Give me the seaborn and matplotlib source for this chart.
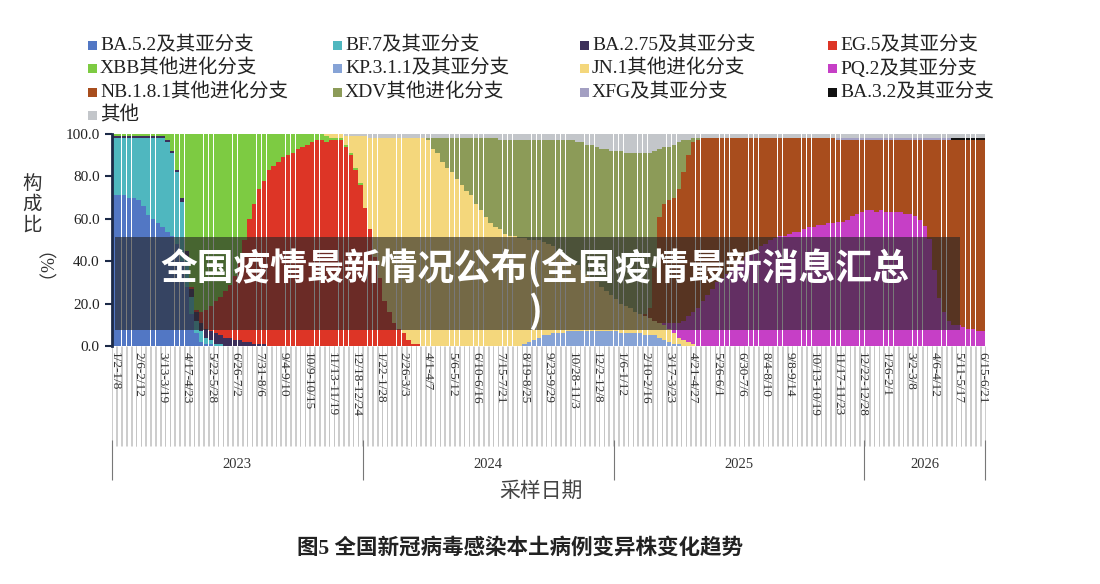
import matplotlib
matplotlib.use('Agg')
import numpy as np
import seaborn as sns
import matplotlib.pyplot as plt
from matplotlib.patches import Rectangle

n_weeks = 181

week_labels = ['1/2-1/8', '2/6-2/12', '3/13-3/19', '4/17-4/23', '5/22-5/28', '6/26-7/2',
               '7/31-8/6', '9/4-9/10', '10/9-10/15', '11/13-11/19', '12/18-12/24', '1/22-1/28',
               '2/26-3/3', '4/1-4/7', '5/6-5/12', '6/10-6/16', '7/15-7/21', '8/19-8/25',
               '9/23-9/29', '10/28-11/3', '12/2-12/8', '1/6-1/12', '2/10-2/16', '3/17-3/23',
               '4/21-4/27', '5/26-6/1', '6/30-7/6', '8/4-8/10', '9/8-9/14', '10/13-10/19',
               '11/17-11/23', '12/22-12/28', '1/26-2/1', '3/2-3/8', '4/6-4/12', '5/11-5/17',
               '6/15-6/21']
years = ['2023', '2024', '2025', '2026']
year_first_week = [0, 52, 104, 156]

variants = ['BA.5.2及其亚分支', 'BF.7及其亚分支', 'BA.2.75及其亚分支', 'EG.5及其亚分支',
            'XBB其他进化分支', 'KP.3.1.1及其亚分支', 'JN.1其他进化分支', 'PQ.2及其亚分支',
            'NB.1.8.1其他进化分支', 'XDV其他进化分支', 'XFG及其亚分支', 'BA.3.2及其亚分支', '其他']
colors = ['#5277c4', '#4fb7bf', '#3d2f5a', '#dd3526', '#7dcb42', '#86a3d6', '#f4d77c',
          '#c63fc6', '#a84d1d', '#8c9b58', '#a39fc2', '#111111', '#c3c6ca']

# weekly share (%) of each lineage; *_from = index of first week listed
ba52_from = 0
ba52 = [71, 71, 71, 70, 70, 69, 66, 62, 60, 58, 56, 54, 52, 48, 40, 28, 15, 6, 2, 1, 1]
bf7_from = 0
bf7 = [27, 27, 27, 28, 28, 29, 32, 36, 38, 40, 42, 42, 39, 34, 28, 14, 8, 6, 5, 3, 2, 1, 1]
ba275_from = 0
ba275 = [1, 1, 1, 1, 1, 1, 1, 1, 1, 1, 1, 1, 1, 1, 2, 3, 4, 4, 4, 4, 4, 5, 4, 4, 4, 3, 3,
         2, 2, 1, 1, 1]
eg5_from = 16
eg5 = [1, 1, 5, 9, 12, 15, 18, 22, 25, 30, 37, 48, 58, 66, 73, 77, 83, 85, 87, 89, 90, 91,
       93, 94, 95, 96, 97, 97, 96, 97, 97, 97, 94, 90, 83, 76, 65, 55, 42, 32, 21, 16, 11, 8,
       6, 3, 1, 1]
xbb_from = 0
xbb = [1, 1, 1, 1, 1, 1, 1, 1, 1, 1, 1, 3, 8, 17, 30, 55, 72, 83, 84, 83, 81, 79, 77, 74, 71,
       67, 60, 50, 40, 33, 26, 22, 17, 15, 13, 11, 10, 9, 7, 6, 5, 4, 3, 3, 3, 1, 1, 1, 1, 1,
       1, 1]
kp311_from = 85
kp311 = [1, 2, 3, 4, 5, 5, 6, 6, 6, 7, 7, 7, 7, 7, 7, 7, 7, 7, 7, 7, 6, 6, 6, 6, 6, 5, 5, 5,
         4, 3, 2, 1, 1]
jn1_from = 44
jn1 = [1, 2, 2, 2, 4, 8, 15, 22, 34, 43, 56, 66, 77, 82, 87, 90, 92, 95, 97, 97, 98, 97, 93,
       91, 87, 84, 82, 79, 76, 73, 71, 67, 64, 61, 58, 56, 55, 53, 52, 52, 51, 50, 48, 47, 46,
       44, 43, 41, 39, 38, 35, 33, 31, 29, 27, 25, 23, 21, 19, 17, 15, 14, 13, 12, 10, 9, 9,
       8, 7, 7, 7, 6, 5, 3, 3, 2, 1]
pq2_from = 114
pq2 = [1, 3, 5, 7, 9, 12, 15, 18, 21, 24, 27, 30, 32, 34, 36, 38, 40, 42, 44, 45, 47, 48, 50,
       51, 52, 52, 53, 54, 54, 55, 56, 56, 57, 57, 58, 58, 59, 59, 60, 62, 63, 64, 65, 65, 64,
       65, 64, 64, 64, 64, 63, 63, 62, 60, 57, 51, 36, 23, 16, 12, 10, 10, 9, 8, 8, 7, 7]
nb181_from = 110
nb181 = [1, 5, 25, 50, 56, 58, 59, 63, 70, 76, 80, 79, 77, 74, 71, 68, 66, 64, 62, 60, 58, 56,
         54, 53, 51, 50, 48, 47, 46, 46, 45, 44, 44, 43, 42, 42, 41, 41, 40, 40, 39, 39, 38,
         36, 35, 34, 33, 33, 34, 33, 34, 34, 34, 34, 35, 35, 36, 38, 41, 47, 62, 75, 82, 86,
         87, 87, 88, 89, 89, 90, 90]
xdv_from = 65
xdv = [1, 5, 7, 11, 14, 16, 19, 22, 25, 27, 31, 34, 37, 40, 42, 42, 44, 45, 45, 46, 46, 47, 47,
       47, 48, 49, 50, 52, 53, 55, 57, 58, 60, 61, 63, 64, 65, 67, 68, 70, 72, 72, 73, 75, 76,
       76, 73, 55, 32, 27, 25, 25, 22, 15, 7, 2, 1]
xfg_from = 150
xfg = [1, 1, 1, 1, 1, 1, 1, 1, 1, 1, 1, 1, 1, 1, 1, 1, 1, 1, 1, 1, 1, 1, 1, 1]
ba32_from = 174
ba32 = [1, 1, 1, 1, 1, 1, 1]
other_from = 48
other = [1, 1, 1, 1, 1,
         2, 2, 2, 2, 2, 2, 2, 2, 2, 2,
         2, 2, 2, 2, 2, 2, 2, 2, 2, 2,
         2, 2, 2, 2, 2, 2, 2,
         3, 3, 3, 3, 3, 3, 3, 3, 3, 3,
         3, 3, 3, 3, 3, 3,
         4, 4, 5, 5, 6, 7, 7, 8, 8, 8, 9, 9, 9, 9, 9, 9, 8, 7, 6, 6, 5, 4, 3, 3,
         2, 2, 2, 2, 2, 2, 2, 2, 2, 2,
         2, 2, 2, 2, 2, 2, 2, 2, 2, 2,
         2, 2, 2, 2, 2, 2, 2, 2, 2, 2,
         2, 2, 2, 2, 2, 2, 2, 2, 2, 2,
         2, 2, 2, 2, 2, 2, 2, 2, 2, 2,
         2, 2, 2, 2, 2, 2, 2, 2, 2, 2,
         2]


def full_series(start, vals):
    out = np.zeros(n_weeks)
    out[start:start + len(vals)] = vals
    return out


shares = np.vstack([
    full_series(ba52_from, ba52), full_series(bf7_from, bf7), full_series(ba275_from, ba275),
    full_series(eg5_from, eg5), full_series(xbb_from, xbb), full_series(kp311_from, kp311),
    full_series(jn1_from, jn1), full_series(pq2_from, pq2), full_series(nb181_from, nb181),
    full_series(xdv_from, xdv), full_series(xfg_from, xfg), full_series(ba32_from, ba32),
    full_series(other_from, other),
])
shares = shares / shares.sum(axis=0) * 100
cum = shares.cumsum(axis=0)
weeks = np.arange(n_weeks)

sns.set_theme(style='white')
plt.rcParams['font.family'] = ['Liberation Serif', 'Noto Sans CJK SC']
plt.rcParams['axes.unicode_minus'] = False

fig = plt.figure(figsize=(11, 5.84), dpi=100)
ax = fig.add_axes([112 / 1100, 238 / 584, 873 / 1100, 212 / 584])

# stacked bars: draw cumulative totals from the top layer down
for k in range(len(variants) - 1, -1, -1):
    sns.barplot(x=weeks, y=cum[k], color=colors[k], native_scale=True, width=0.9,
                saturation=1, errorbar=None, linewidth=0, edgecolor='none', ax=ax)

ax.set_xlim(-0.5, n_weeks - 0.5)
ax.set_ylim(0, 100)
ax.set_yticks([0, 20, 40, 60, 80, 100])
ax.set_yticklabels([f'{v:.1f}' for v in [0, 20, 40, 60, 80, 100]], fontsize=11, color='#222222')
ax.set_xticks(np.arange(0, n_weeks, 5))
ax.set_xticklabels(week_labels, rotation=-90, fontsize=9.5, color='#333333', va='top')
ax.tick_params(axis='x', length=0, pad=4)
ax.tick_params(axis='y', left=True, length=5, width=1.5, color='#1c2a48', pad=4)
ax.set_xlabel('')
ax.set_ylabel('')
for s in ['top', 'right', 'bottom']:
    ax.spines[s].set_visible(False)
ax.spines['left'].set_color('#1c2a48')
ax.spines['left'].set_linewidth(2)

# light week stripes behind the date labels
xt = ax.get_xaxis_transform()
edges = np.concatenate([weeks - 0.43, weeks + 0.43])
ax.vlines(edges, -0.47, 0, transform=xt, colors='#c4c4c4', linewidth=0.6, clip_on=False,
          zorder=0)

# year brackets
bounds = year_first_week + [n_weeks]
ax.vlines([b - 0.5 for b in bounds], -0.632, -0.443, transform=xt, colors='#777777',
          linewidth=0.8, clip_on=False)
for i, y in enumerate(years):
    ax.text((bounds[i] + bounds[i + 1] - 1) / 2, -0.561, y, transform=xt, ha='center',
            va='center', fontsize=10.5, color='#333333')

fig.text(541 / 1100, 1 - 492 / 584, '采样日期', ha='center', va='center', fontsize=15,
         color='#444444', weight='light')
fig.text(520 / 1100, 1 - 548 / 584, '图5 全国新冠病毒感染本土病例变异株变化趋势', ha='center',
         va='center', fontsize=15.5, weight='bold', color='#222222')

# y label
fig.text(32 / 1100, 1 - 205 / 584, '构\n成\n比', ha='center', va='center', fontsize=14,
         linespacing=1.25, color='#333333', weight='light')
fig.text(32 / 1100, 1 - 278 / 584, '（%）', ha='center', va='center', fontsize=13,
         rotation=-90, color='#333333', weight='light')

# legend drawn in a 4-column grid
col_x = [88, 333, 580, 828]
row_y = [45, 68, 92, 115]
for i, (name, c) in enumerate(zip(variants, colors)):
    px, py = col_x[i % 4], row_y[i // 4]
    fig.patches.append(Rectangle((px / 1100, (584 - py - 4.5) / 584), 9 / 1100, 9 / 584,
                                 transform=fig.transFigure, facecolor=c, edgecolor='none'))
    fig.text((px + 12) / 1100, 1 - py / 584, name, ha='left', va='center', fontsize=14,
             color='#222222')

# translucent caption banner over the chart
fig.patches.append(Rectangle((115 / 1100, 254 / 584), 845 / 1100, 93 / 584,
                             transform=fig.transFigure, facecolor='#262626', alpha=0.62,
                             edgecolor='none', zorder=10))
fig.text(535 / 1100, 1 - 290 / 584, '全国疫情最新情况公布(全国疫情最新消息汇总\n)', ha='center',
         va='center', fontsize=26.5, weight='bold', color='white', linespacing=1.15,
         family=['Noto Sans CJK SC'], zorder=11)

fig.savefig('out.png', dpi=100)
